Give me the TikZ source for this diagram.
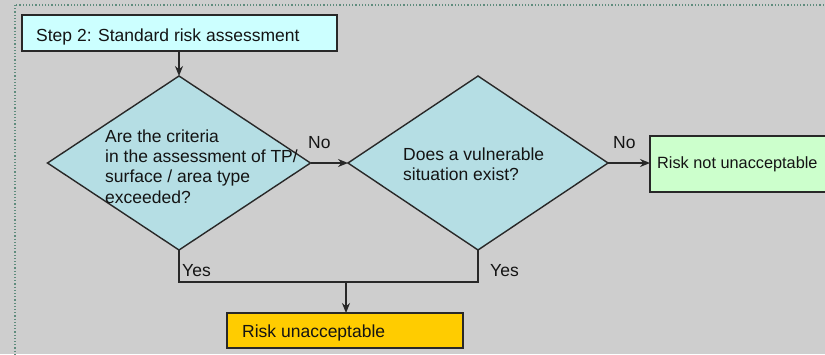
\documentclass[tikz,border=0pt]{standalone}
\usepackage{fontspec}
\setmainfont{Liberation Sans}
\usetikzlibrary{shapes.geometric,arrows.meta}
\definecolor{bgc}{RGB}{206,206,206}
\definecolor{stepfill}{RGB}{204,255,255}
\definecolor{dfill}{RGB}{181,222,228}
\definecolor{gfill}{RGB}{204,255,204}
\definecolor{yfill}{RGB}{255,204,0}
\definecolor{framec}{RGB}{95,140,125}
\definecolor{linec}{RGB}{40,40,40}
\definecolor{txtc}{RGB}{20,20,20}
\begin{document}
\begin{tikzpicture}[x=1pt,y=-1pt,
  font=\fontsize{17.5}{21}\selectfont,
  boxnode/.style={draw=linec, line width=1.4pt, rectangle, inner sep=0pt, outer sep=0pt, anchor=north west},
  dianode/.style={draw=linec, line width=1.4pt, diamond, fill=dfill, inner sep=0pt, outer sep=0pt, minimum height=174pt},
  txt/.style={anchor=base west, inner sep=0pt, text=txtc},
  conn/.style={draw=linec, line width=1.4pt},
  arr/.style={conn, -{Stealth[length=10pt,width=8pt]}}]
\useasboundingbox (0,0) rectangle (825,354);
\clip (0,0) rectangle (825,354);
\fill[bgc] (0,0) rectangle (825,354);
\draw[framec, dotted, line width=1.2pt] (15,5) rectangle (840,370);

% boxes
\node[boxnode, fill=stepfill, minimum width=315pt, minimum height=36pt] (step) at (22,15) {};
\node[txt] (steptxt) at (36,41) {Step 2: Standard risk assessment};

\node[dianode, minimum width=263pt] (d1) at (179,163) {};
\node[txt] (d1a) at (105,142) {Are the criteria};
\node[txt] (d1b) at (105,162) {in the assessment of TP/};
\node[txt] (d1c) at (105,182.5) {surface / area type};
\node[txt] (d1d) at (105,203) {exceeded?};

\node[dianode, minimum width=260pt] (d2) at (478,163) {};
\node[txt] (d2a) at (403,160) {Does a vulnerable};
\node[txt] (d2b) at (403,180) {situation exist?};

\node[boxnode, fill=gfill, minimum width=240pt, minimum height=56pt] (ok) at (650,136) {};
\node[txt, font=\fontsize{16.3}{20}\selectfont] (oktxt) at (657,168.5) {Risk not unacceptable};

\node[boxnode, fill=yfill, minimum width=236pt, minimum height=35pt] (bad) at (227,313) {};
\node[txt] (badtxt) at (242,337) {Risk unacceptable};

% connectors
\draw[arr] (step.south -| d1.north) -- (d1.north);
\draw[arr] (d1.east) -- (d2.west);
\draw[arr] (d2.east) -- (d2.east -| ok.west);
\coordinate (join) at (346,282);
\draw[conn] (d1.south) |- (join) -| (d2.south);
\draw[arr] (join) -- (join |- bad.north);

% labels
\node[txt] (no1) at (308,148) {No};
\node[txt] (no2) at (613,148) {No};
\node[txt] (yes1) at (182,276) {Yes};
\node[txt] (yes2) at (490,276) {Yes};
\end{tikzpicture}
\end{document}
